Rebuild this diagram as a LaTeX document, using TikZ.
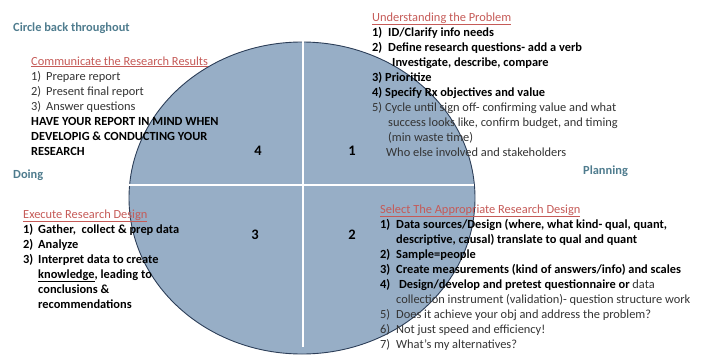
\documentclass[tikz,border=0pt]{standalone}
\usepackage{fontspec}
\setmainfont{Carlito}
\usepackage{tikz}

\definecolor{discfill}{HTML}{97AEC6}
\definecolor{discedge}{HTML}{2C3E58}
\definecolor{headred}{HTML}{C55A57}
\definecolor{phaseteal}{HTML}{4F7C8E}
\definecolor{bodygray}{HTML}{333333}
\newcommand{\bld}[1]{{\color{black}\bfseries #1}}

\begin{document}
\begin{tikzpicture}[x=1pt,y=-1pt,
  body/.style={anchor=base west,inner sep=0pt,align=left,text=bodygray,
    font=\fontsize{12.4}{15}\selectfont},
  phase/.style={anchor=base west,inner sep=0pt,text=phaseteal,
    font=\fontsize{12.4}{15}\selectfont\bfseries},
  quad/.style={anchor=base,inner sep=0pt,font=\fontsize{14.5}{16}\selectfont\bfseries},
  sepline/.style={draw=white,line width=1.6pt}]
\useasboundingbox (0,0) rectangle (707,356);
\fill[discfill,draw=discedge,line width=0.9pt] (302,198) ellipse [x radius=173pt,y radius=156pt];
\draw[gray!20,line width=2.4pt] (303,35) -- (303,347);
\draw[gray!20,line width=2.4pt] (111,185) -- (474,185);
\draw[sepline] (303,35) -- (303,347);
\draw[sepline] (111,185) -- (474,185);

\node[phase] (circle) at (13,31) {Circle back throughout};
\node[phase] (doing) at (13,178) {Doing};
\node[phase] (planning) at (583,174) {Planning};

\node[quad] (q4) at (258,155) {4};
\node[quad] (q1) at (352,155) {1};
\node[quad] (q3) at (255,239) {3};
\node[quad] (q2) at (352,239) {2};

% multi-line blocks: placed by the baseline of their last line
\node[body] (report) at (31,155) {{\color{headred}\underline{Communicate the Research Results}}\\
\makebox[15pt][l]{1)}Prepare report\\
\makebox[15pt][l]{2)}Present final report\\
\makebox[15pt][l]{3)}Answer questions\\
\bld{HAVE YOUR REPORT IN MIND WHEN}\\
\bld{DEVELOPIG \& CONDUCTING YOUR}\\
\bld{RESEARCH}};

\node[body] (problem) at (372,156) {{\color{headred}\underline{Understanding the Problem}}\\
\bld{\makebox[16pt][l]{1)}ID/Clarify info needs}\\
\bld{\makebox[16pt][l]{2)}Define research questions- add a verb}\\
\bld{\hspace*{20pt}Investigate, describe, compare}\\
\bld{3) Prioritize}\\
\bld{4) Specify Rx objectives and value}\\
5) Cycle until sign off- confirming value and what\\
\hspace*{16pt}success looks like, confirm budget, and timing\\
\hspace*{16pt}(min waste time)\\
\hspace*{14pt}Who else involved and stakeholders};

\node[body] (execute) at (23,308) {{\color{headred}\underline{Execute Research Design}}\\
\bld{\makebox[15pt][l]{1)}Gather,\ \ collect \& prep data}\\
\bld{\makebox[15pt][l]{2)}Analyze}\\
\bld{\makebox[15pt][l]{3)}Interpret data to create}\\
\bld{\hspace*{15pt}\underline{knowledge}, leading to}\\
\bld{\hspace*{15pt}conclusions \&}\\
\bld{\hspace*{15pt}recommendations}};

\node[body] (design) at (380,348) {{\color{headred}\underline{Select The Appropriate Research Design}}\\
\bld{\makebox[16pt][l]{1)}Data sources/Design (where, what kind- qual, quant,}\\
\bld{\hspace*{16pt}descriptive, causal) translate to qual and quant}\\
\bld{\makebox[16pt][l]{2)}Sample=people}\\
\bld{\makebox[16pt][l]{3)}Create measurements (kind of answers/info) and scales}\\
\bld{\makebox[16pt][l]{4)}\ Design/develop and pretest questionnaire or} data\\
\hspace*{16pt}collection instrument (validation)- question structure work\\
\makebox[16pt][l]{5)}Does it achieve your obj and address the problem?\\
\makebox[16pt][l]{6)}Not just speed and efficiency!\\
\makebox[16pt][l]{7)}What’s my alternatives?};
\end{tikzpicture}
\end{document}
